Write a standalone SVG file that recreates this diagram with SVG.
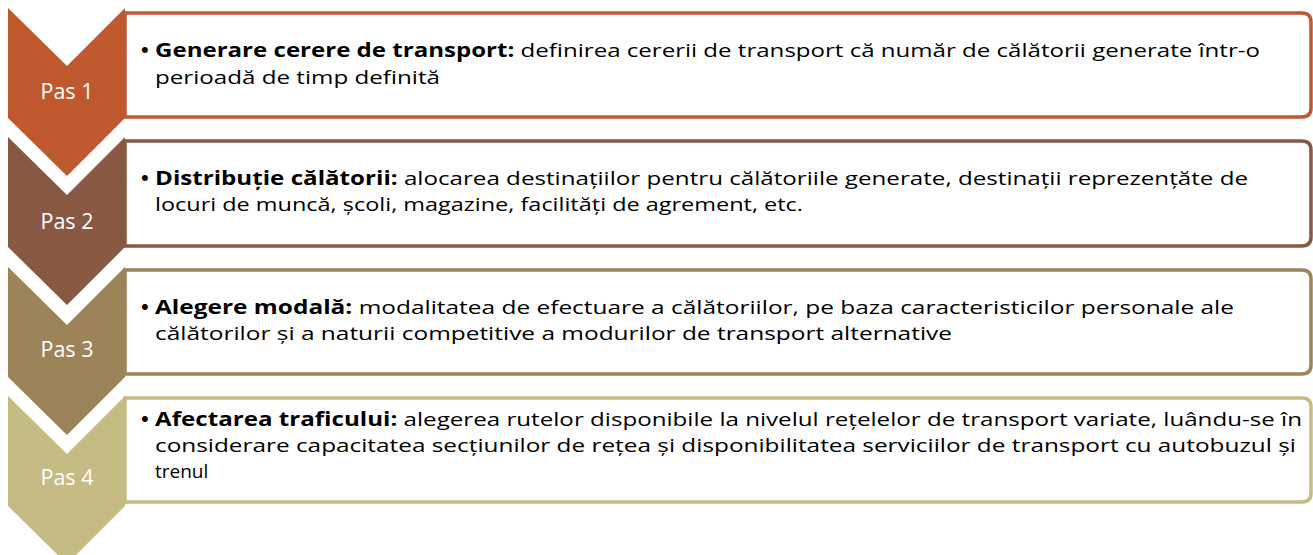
<svg xmlns="http://www.w3.org/2000/svg" width="1313" height="555" viewBox="0 0 1313 555">
<style>
.box{fill:#fff;stroke-width:3.5}
.pas{font-family:"Open Sans","Liberation Sans",sans-serif;font-size:21.5px;fill:#fff;text-anchor:middle}
.t{font-family:"Open Sans","Liberation Sans",sans-serif;font-size:19px;fill:#000}
.bul{font-family:"Liberation Sans",Arial,sans-serif;font-size:22px;fill:#000}
.b{font-weight:bold}
</style>
<rect width="1313" height="555" fill="#fff"/>
<g id="step1">
<path class="box" stroke="#C0582E" d="M125,13 H1302 Q1311,13 1311,22 V108 Q1311,117 1302,117 H125 Z"/>
<polygon fill="#C0582E" points="8,8 67,66 125,8 125,118 67,176 8,118"/>
<text class="pas" x="67" y="99">Pas 1</text>
<text class="bul" x="141" y="57">•</text>
<text class="t" x="155" y="57" textLength="1105" lengthAdjust="spacingAndGlyphs"><tspan class="b">Generare cerere de transport:</tspan> definirea cererii de transport că număr de călătorii generate într-o</text>
<text class="t" x="155" y="84" textLength="285" lengthAdjust="spacingAndGlyphs">perioadă de timp definită</text>
</g>
<g id="step2">
<path class="box" stroke="#885843" d="M125,141 H1302 Q1311,141 1311,150 V237 Q1311,246 1302,246 H125 Z"/>
<polygon fill="#885843" points="8,137 67,195 125,137 125,247 67,305 8,247"/>
<text class="pas" x="67" y="229">Pas 2</text>
<text class="bul" x="141" y="185">•</text>
<text class="t" x="155" y="185" textLength="1093" lengthAdjust="spacingAndGlyphs"><tspan class="b">Distribuție călătorii:</tspan> alocarea destinațiilor pentru călătoriile generate, destinații reprezențăte de</text>
<text class="t" x="155" y="211" textLength="648" lengthAdjust="spacingAndGlyphs">locuri de muncă, școli, magazine, facilități de agrement, etc.</text>
</g>
<g id="step3">
<path class="box" stroke="#9C8358" d="M125,270 H1302 Q1311,270 1311,279 V365 Q1311,374 1302,374 H125 Z"/>
<polygon fill="#9C8358" points="8,267 67,325 125,267 125,377 67,435 8,377"/>
<text class="pas" x="67" y="357">Pas 3</text>
<text class="bul" x="141" y="314">•</text>
<text class="t" x="155" y="314" textLength="1079" lengthAdjust="spacingAndGlyphs"><tspan class="b">Alegere modală:</tspan> modalitatea de efectuare a călătoriilor, pe baza caracteristicilor personale ale</text>
<text class="t" x="155" y="340" textLength="797" lengthAdjust="spacingAndGlyphs">călătorilor și a naturii competitive a modurilor de transport alternative</text>
</g>
<g id="step4">
<path class="box" stroke="#C4BC83" d="M125,398 H1302 Q1311,398 1311,407 V493 Q1311,502 1302,502 H125 Z"/>
<polygon fill="#C4BC83" points="8,396 67,454 125,396 125,506 67,564 8,506"/>
<text class="pas" x="67" y="485">Pas 4</text>
<text class="bul" x="141" y="426">•</text>
<text class="t" x="155" y="426" textLength="1147" lengthAdjust="spacingAndGlyphs"><tspan class="b">Afectarea traficului:</tspan> alegerea rutelor disponibile la nivelul rețelelor de transport variate, luându-se în</text>
<text class="t" x="155" y="452" textLength="1141" lengthAdjust="spacingAndGlyphs">considerare capacitatea secțiunilor de rețea și disponibilitatea serviciilor de transport cu autobuzul și</text>
<text class="t" x="155" y="478">trenul</text>
</g>
<g id="connectors"></g>
</svg>
